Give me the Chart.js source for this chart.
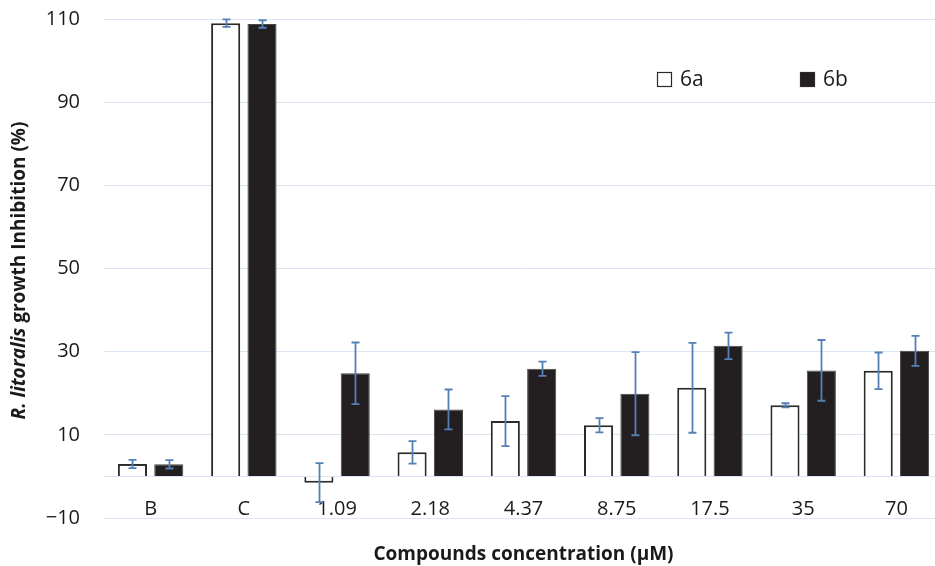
<!DOCTYPE html>
<html>
<head>
<meta charset="utf-8">
<script src="https://cdn.jsdelivr.net/npm/chart.js@4"></script>
<style>
  html, body { margin: 0; padding: 0; background: #fff; overflow: hidden; }
  #wrap { width: 943px; height: 566px; }
</style>
</head>
<body>
<div id="wrap"><canvas id="c" width="943" height="566"></canvas></div>
<script>
// Growth inhibition of R. litoralis by compounds 6a and 6b
const categories = ['B', 'C', '1.09', '2.18', '4.37', '8.75', '17.5', '35', '70'];
const series6a = [3.0, 109.0, -1.5, 5.8, 13.3, 12.3, 21.3, 17.1, 25.4];
const error6a  = [1.0, 0.9, 4.7, 2.7, 6.0, 1.7, 10.8, 0.5, 4.4];
const series6b = [2.9, 108.8, 24.8, 16.1, 25.9, 19.9, 31.4, 25.5, 30.2];
const error6b  = [1.0, 0.9, 7.4, 4.8, 1.7, 10.0, 3.2, 7.3, 3.6];
const yTicks = [-10, 10, 30, 50, 70, 90, 110];
const seriesNames = ['6a', '6b'];
const yTitleParts = ['R. litoralis', ' growth Inhibition (%)'];
const xTitle = 'Compounds concentration (\u03BCM)';

const FONT = '"Open Sans", "DejaVu Sans", sans-serif';
const TEXT = '#1a1a1a';
const GRID = '#dce5f2';

// vertical error bars, positioned through the y scale
const errorBars = {
  id: 'errorBars',
  afterDatasetsDraw(chart) {
    const { ctx } = chart;
    const y = chart.scales.y;
    ctx.save();
    ctx.strokeStyle = '#5580b6';
    ctx.lineWidth = 1.8;
    chart.data.datasets.forEach((ds, i) => {
      chart.getDatasetMeta(i).data.forEach((bar, j) => {
        const v = ds.data[j], e = ds.errors[j];
        const x = Math.round(bar.x) + 0.5;
        const yt = y.getPixelForValue(v + e);
        const yb = y.getPixelForValue(v - e);
        ctx.beginPath();
        ctx.moveTo(x, yt); ctx.lineTo(x, yb);
        ctx.moveTo(x - 4, yt); ctx.lineTo(x + 4, yt);
        ctx.moveTo(x - 4, yb); ctx.lineTo(x + 4, yb);
        ctx.stroke();
      });
    });
    ctx.restore();
  }
};

// legend inside the plot, one swatch + label per series
const insideLegend = {
  id: 'insideLegend',
  afterDraw(chart) {
    const { ctx } = chart;
    const slots = [{ x: 657, y: 72 }, { x: 800, y: 72 }];
    ctx.save();
    ctx.font = '21px ' + FONT;
    ctx.textBaseline = 'middle';
    ctx.textAlign = 'left';
    chart.data.datasets.forEach((ds, i) => {
      const s = slots[i];
      ctx.fillStyle = ds.backgroundColor;
      ctx.fillRect(s.x, s.y, 15, 15);
      ctx.strokeStyle = '#2a2a2a';
      ctx.lineWidth = 1.2;
      ctx.strokeRect(s.x + 0.5, s.y + 0.5, 14, 14);
      ctx.fillStyle = TEXT;
      ctx.fillText(ds.label, s.x + 23, s.y + 8);
    });
    ctx.restore();
  }
};

// rotated y-axis title with the italic species name
const yTitle = {
  id: 'yTitle',
  afterDraw(chart) {
    const { ctx, chartArea } = chart;
    const cy = (chartArea.top + chartArea.bottom) / 2 + 2;
    const fonts = ['italic bold 19px ' + FONT, 'bold 19px ' + FONT];
    ctx.save();
    ctx.translate(20, cy);
    ctx.rotate(-Math.PI / 2);
    ctx.textBaseline = 'middle';
    ctx.textAlign = 'left';
    ctx.fillStyle = TEXT;
    const widths = yTitleParts.map((t, i) => { ctx.font = fonts[i]; return ctx.measureText(t).width; });
    let x = -(widths[0] + widths[1]) / 2;
    yTitleParts.forEach((t, i) => {
      ctx.font = fonts[i];
      ctx.fillText(t, x, 0);
      x += widths[i];
    });
    ctx.restore();
  }
};

new Chart(document.getElementById('c'), {
  type: 'bar',
  data: {
    labels: categories,
    datasets: [
      {
        label: seriesNames[0],
        data: series6a,
        errors: error6a,
        backgroundColor: '#ffffff',
        borderColor: '#2b2b2b',
        borderWidth: 2
      },
      {
        label: seriesNames[1],
        data: series6b,
        errors: error6b,
        backgroundColor: '#231f20',
        borderColor: '#4a4748',
        borderWidth: 1
      }
    ]
  },
  options: {
    responsive: false,
    devicePixelRatio: 1,
    animation: false,
    layout: { padding: { top: 19, right: 0, bottom: 48, left: 0 } },
    datasets: { bar: { categoryPercentage: 0.78, barPercentage: 0.8 } },
    plugins: {
      legend: { display: false },
      tooltip: { enabled: false }
    },
    scales: {
      x: {
        position: { y: 0 },
        grid: { display: false },
        border: { display: false },
        ticks: { color: TEXT, font: { family: FONT, size: 20 }, padding: 13, maxRotation: 0 },
        title: {
          display: true,
          text: xTitle,
          color: TEXT,
          font: { family: FONT, size: 19, weight: 'bold' },
          padding: { top: 0, bottom: 0 }
        },
        afterFit(scale) { scale.height = 90; }
      },
      y: {
        min: -10,
        max: 110,
        grid: { color: GRID, lineWidth: 1, drawTicks: false },
        border: { display: false },
        afterBuildTicks(scale) {
          scale.ticks = yTicks.concat([0]).sort((a, b) => a - b).map(v => ({ value: v }));
        },
        ticks: {
          color: TEXT,
          font: { family: FONT, size: 20 },
          padding: 24,
          callback(v) {
            if (!yTicks.includes(v)) return '';
            return v < 0 ? '\u2212' + Math.abs(v) : String(v);
          }
        },
        afterFit(scale) {
          scale.width = 104;
          scale.paddingTop = 0;
          scale.paddingBottom = 0;
        }
      }
    }
  },
  plugins: [errorBars, insideLegend, yTitle]
});
</script>
</body>
</html>
